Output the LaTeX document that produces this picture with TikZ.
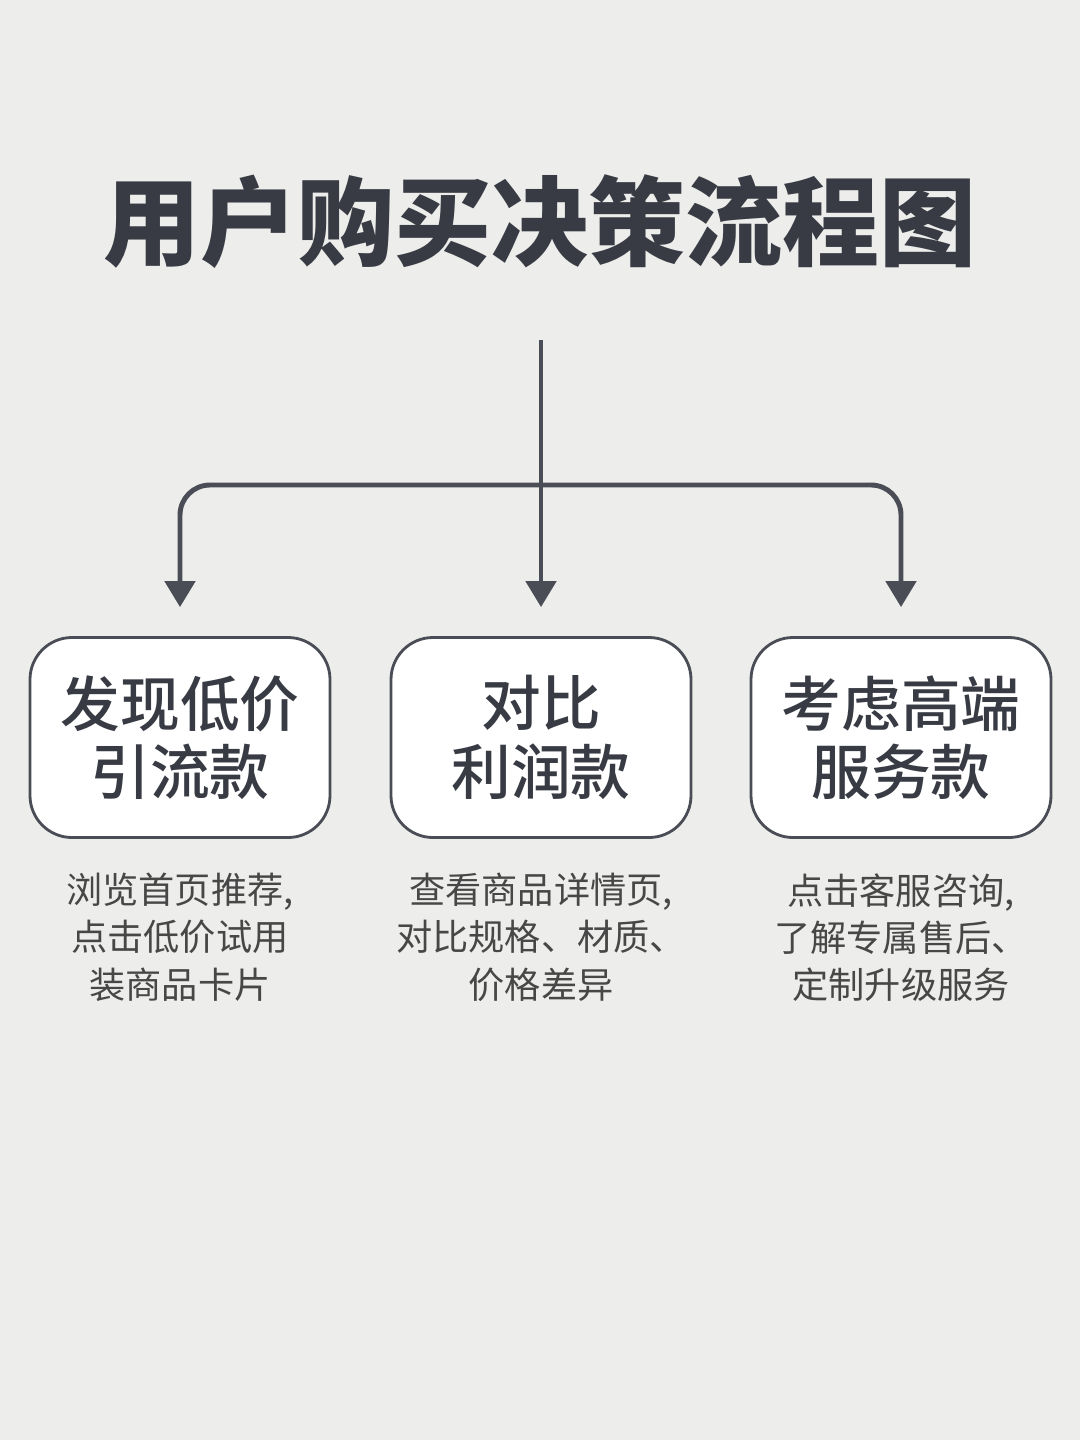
\documentclass[tikz,border=0pt]{standalone}
\usepackage{fontspec}
\newfontfamily\cjk{Noto Sans CJK SC}
\newfontfamily\cjkmed{Noto Sans CJK SC}[UprightFont=* Medium]
\usetikzlibrary{arrows.meta, positioning}
\definecolor{bg}{HTML}{EDEDEB}
\definecolor{ink}{HTML}{383B43}
\definecolor{ln}{HTML}{4A4D56}
\definecolor{sub}{HTML}{474747}

\begin{document}
\begin{tikzpicture}[
      font=\cjk,
      card/.style={draw=ln, fill=white, line width=0.8pt, rounded corners=0.42cm,
                   minimum width=3.0cm, minimum height=2.0cm, align=center,
                   text=ink, font=\cjkmed\fontsize{17}{19.5}\selectfont},
      note/.style={align=center, text=sub,
                   font=\cjk\fontsize{10.3}{13.4}\selectfont},
      flow/.style={ln, line width=1.4pt, shorten >=0.29cm,
                   -{Triangle[width=0.3cm, length=0.26cm]}},
    ]
    \fill[bg] (0,0) rectangle (10.8,-14.4);
    \useasboundingbox (0,0) rectangle (10.8,-14.4);

    % title
    \node[text=ink, font=\cjk\bfseries\fontsize{27.6}{32}\selectfont] (title)
      at (5.4,-2.22) {用户购买决策流程图};

    % three choices
    \node[card] (cheap) at (1.80,-7.375) {发现低价\\引流款};
    \node[card] (profit) at (5.41,-7.375) {对比\\利润款};
    \node[card] (premium) at (9.01,-7.375) {考虑高端\\服务款};

    \node[note, below=0.22cm of cheap] (cheapnote)
      {浏览首页推荐,\\点击低价试用\\装商品卡片};
    \node[note, below=0.22cm of profit] (profitnote)
      {查看商品详情页,\\对比规格、材质、\\价格差异};
    \node[note, below=0.22cm of premium] (premiumnote)
      {点击客服咨询,\\了解专属售后、\\定制升级服务};

    % arrows
    \coordinate (top) at (5.41,-3.4);
    \coordinate (hub) at (5.41,-4.85);
    \draw[flow] (top) -- (profit);
    \draw[flow, rounded corners=0.3cm] (hub) -| (cheap);
    \draw[flow, rounded corners=0.3cm] (hub) -| (premium);
\end{tikzpicture}
\end{document}
